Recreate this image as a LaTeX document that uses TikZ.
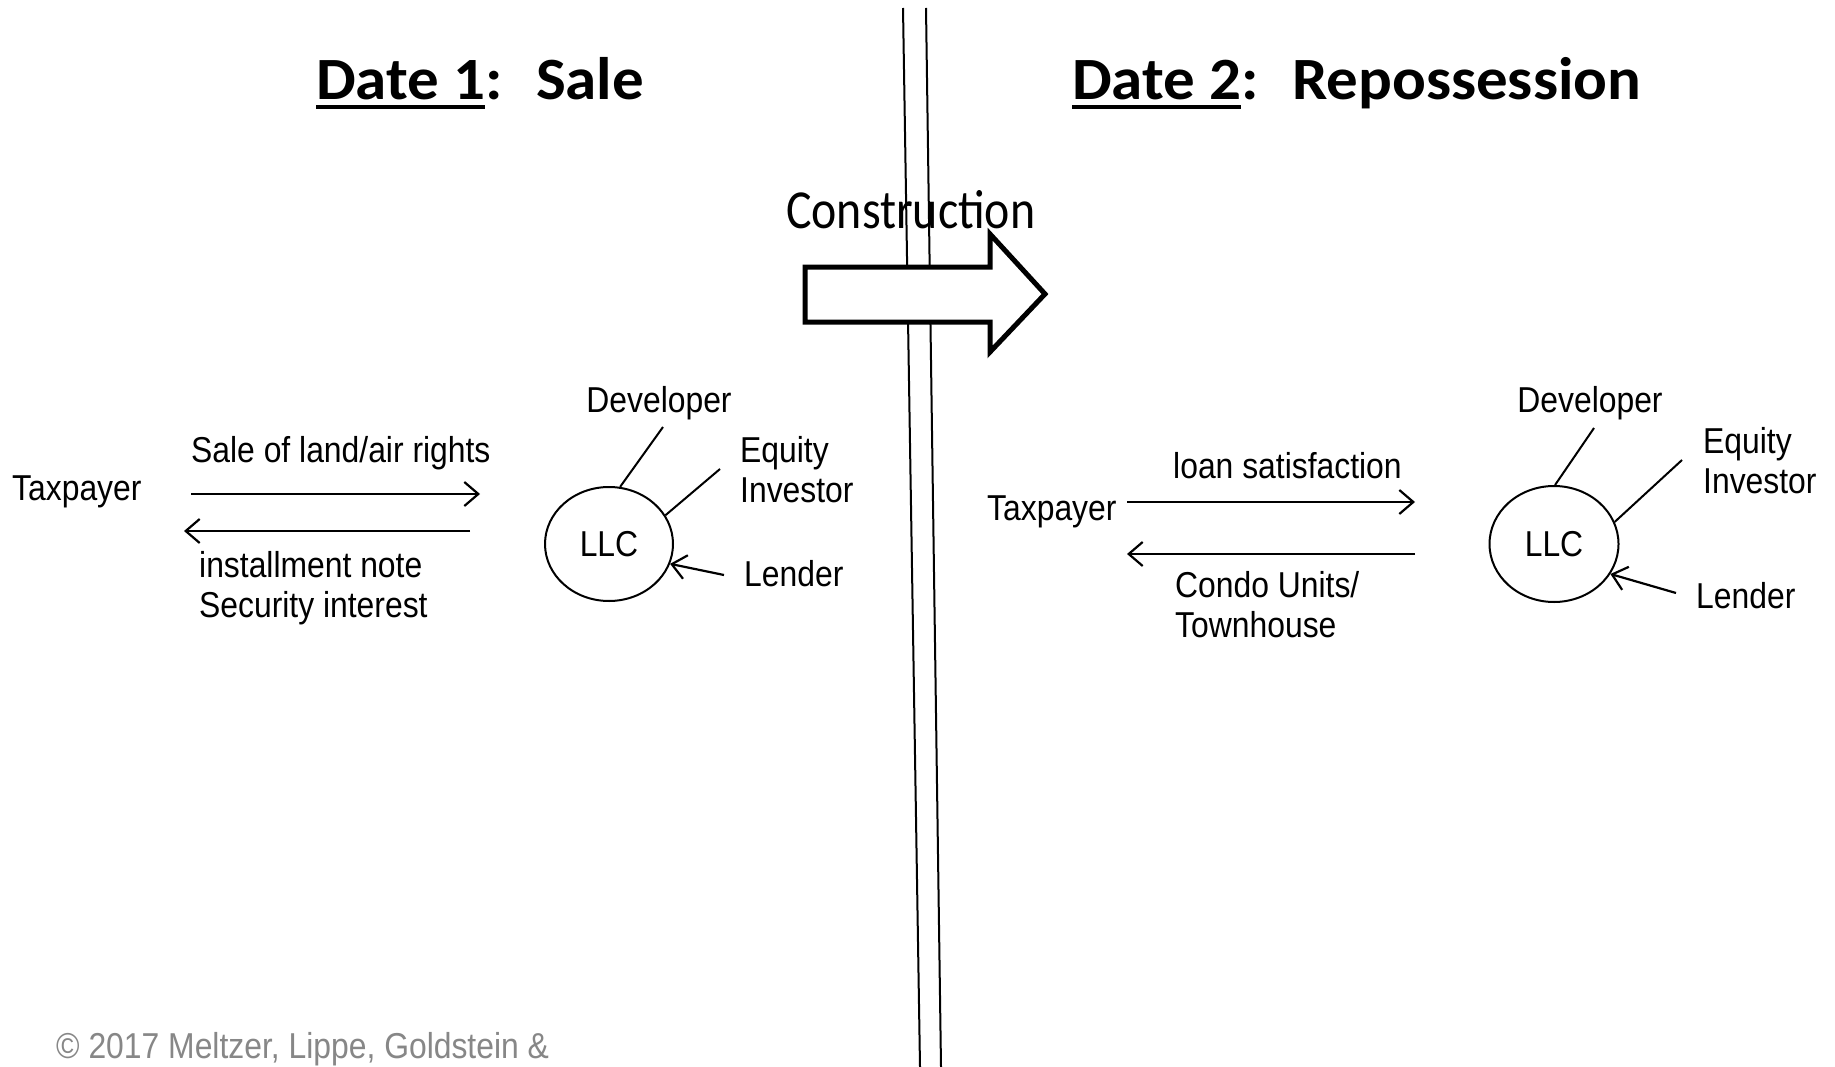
\documentclass[tikz,border=0pt]{standalone}
\usepackage{fontspec}
\setmainfont[FakeStretch=0.885]{Liberation Sans}
\newfontfamily\calibfont[FakeStretch=0.87]{Carlito}
\newfontfamily\titlefont[FakeStretch=1.05]{Carlito}
\usetikzlibrary{arrows.meta,shapes.geometric}
\newcommand\myuline[1]{\setbox0\hbox{#1}\rlap{\rule[-0.15em]{\wd0}{0.07em}}\box0}
\begin{document}
\begin{tikzpicture}[x=1pt,y=-1pt,
  lbl/.style={font=\fontsize{36}{40}\selectfont, inner sep=0pt},
  mlbl/.style={lbl, align=left},
  title/.style={font=\titlefont\bfseries\fontsize{60}{66}\selectfont, inner sep=0pt},
  flow/.style={line width=2.2pt, -{Straight Barb[length=14pt,width=24pt]}},
  tie/.style={line width=2pt},
  llc/.style={ellipse, draw, line width=2pt, inner sep=0pt, font=\fontsize{36}{40}\selectfont},
  divider/.style={line width=2pt},
  bigarrow/.style={line width=5pt, fill=white, miter limit=10}]
\useasboundingbox (0,0) rectangle (1835,1067);
\fill[white] (0,0) rectangle (1835,1067);

% divider
\draw[divider] (903,8) -- (920,1067);
\draw[divider] (926,8) -- (941,1067);

% titles
\node[title, anchor=base west] (t1) at (316,100) {\myuline{Date 1}:~ Sale};
\node[title, anchor=base west] (t2) at (1072,100) {\myuline{Date 2}:~ Repossession};

% big arrow
\draw[bigarrow] (805,267) -- (990,267) -- (990,234) -- (1045,294) -- (990,352) -- (990,322) -- (805,322) -- cycle;
\node[font=\calibfont\fontsize{55}{60}\selectfont, inner sep=0pt, anchor=base west] (constr) at (786,229) {Construction};

% left side
\node[lbl, anchor=base west] (taxA) at (12,500) {Taxpayer};
\node[lbl, anchor=base west] (saleA) at (191,462) {Sale of land/air rights};
\node[mlbl, anchor=north west] (noteA) at (199,551) {installment note\\Security interest};
\coordinate (a1s) at (191,494);
\coordinate (a1e) at (480,494);
\coordinate (a2s) at (470,531);
\coordinate (a2e) at (184,531);
\draw[flow] (a1s) -- (a1e);
\draw[flow] (a2s) -- (a2e);

\node[llc, minimum width=128pt, minimum height=114pt] (llcA) at (609,544) {LLC};
\node[lbl, anchor=base] (devA) at (659,412) {Developer};
\node[mlbl, anchor=north west] (eqA) at (740,436) {Equity\\Investor};
\node[lbl, anchor=base west] (lenA) at (744,586) {Lender};
\coordinate (devAend) at (663,427);
\coordinate (eqAend) at (720,469);
\coordinate (lenAend) at (724,575);
\draw[tie] (devAend) -- (llcA.79);
\draw[tie] (eqAend) -- (llcA.27);
\draw[flow] (lenAend) -- (llcA.-18);

% right side
\node[lbl, anchor=base west] (taxB) at (987,520) {Taxpayer};
\node[lbl, anchor=base west] (loanB) at (1173,478) {loan satisfaction};
\node[mlbl, anchor=north west] (condoB) at (1175,571) {Condo Units/\\Townhouse};
\coordinate (b1s) at (1127,502);
\coordinate (b1e) at (1415,502);
\coordinate (b2s) at (1415,554);
\coordinate (b2e) at (1127,554);
\draw[flow] (b1s) -- (b1e);
\draw[flow] (b2s) -- (b2e);

\node[llc, minimum width=129pt, minimum height=116pt] (llcB) at (1554,544) {LLC};
\node[lbl, anchor=base] (devB) at (1590,412) {Developer};
\node[mlbl, anchor=north west] (eqB) at (1703,427) {Equity\\Investor};
\node[lbl, anchor=base west] (lenB) at (1696,608) {Lender};
\coordinate (devBend) at (1594,428);
\coordinate (eqBend) at (1682,460);
\coordinate (lenBend) at (1676,593);
\draw[tie] (devBend) -- (llcB.89);
\draw[tie] (eqBend) -- (llcB.20);
\draw[flow] (lenBend) -- (llcB.-28);

% footer
\node[lbl, text=black!47, anchor=base west] (copy) at (56,1058) {© 2017 Meltzer, Lippe, Goldstein \&};
\end{tikzpicture}
\end{document}
